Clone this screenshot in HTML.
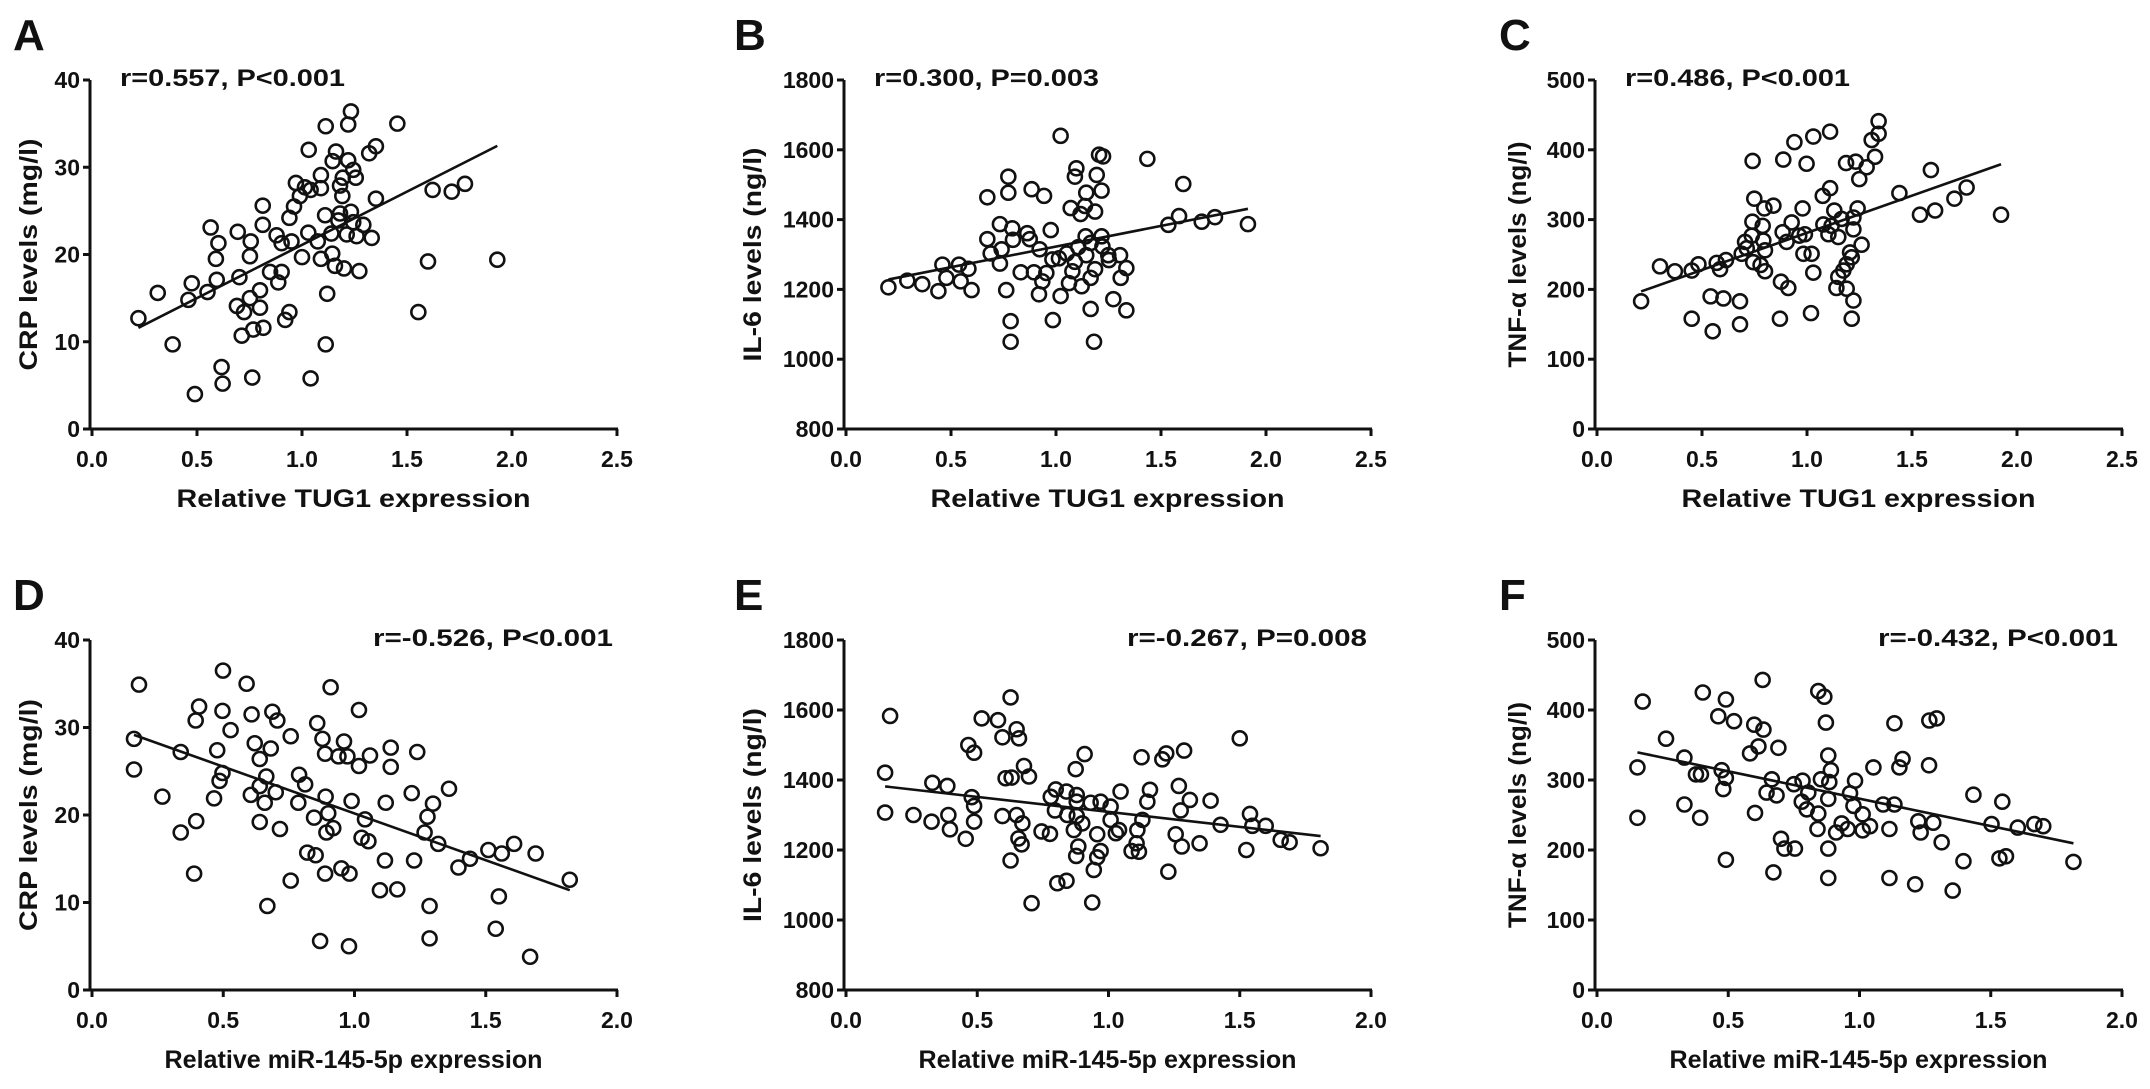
<!DOCTYPE html>
<html><head><meta charset="utf-8"><style>
html,body{margin:0;padding:0;background:#fff}
svg{display:block}
text{font-family:"Liberation Sans",Arial,sans-serif;font-weight:bold;fill:#111}
</style></head><body>
<svg id="fig" width="2150" height="1089" viewBox="0 0 2150 1089" xmlns="http://www.w3.org/2000/svg"></svg>
<script>
const aX=[1.233,1.113,1.22,1.454,1.032,1.162,1.32,1.352,1.146,1.22,1.244,1.09,1.194,1.256,0.971,1.014,1.041,1.09,1.181,1.622,1.713,1.776,1.192,1.352,0.99,0.962,0.813,0.94,1.11,1.181,1.233,1.173,1.244,0.813,0.565,0.694,1.292,1.03,1.14,1.213,1.26,1.332,0.879,0.903,0.95,1.075,0.602,0.756,0.59,0.752,1.0,1.09,1.144,1.157,1.2,1.273,1.6,1.93,0.848,0.903,0.887,0.702,0.594,0.475,0.55,0.459,0.313,0.221,0.8,0.752,0.69,0.724,0.8,0.94,0.92,1.12,1.554,0.713,0.768,0.816,0.384,1.113,0.617,0.622,0.763,1.041,0.49];
const aY=[36.4,34.7,34.9,35.0,32.0,31.8,31.6,32.4,30.7,30.8,29.7,29.1,28.8,28.8,28.2,27.7,27.4,27.6,27.9,27.4,27.2,28.1,26.7,26.4,26.7,25.5,25.6,24.2,24.5,24.7,24.9,23.9,23.7,23.4,23.1,22.6,23.4,22.5,22.4,22.3,22.1,21.9,22.2,21.3,21.5,21.5,21.3,21.5,19.5,19.8,19.7,19.5,20.1,18.7,18.4,18.1,19.2,19.4,18.0,18.0,16.8,17.4,17.1,16.7,15.7,14.8,15.6,12.7,15.9,15.0,14.1,13.4,13.9,13.4,12.5,15.5,13.4,10.7,11.4,11.6,9.7,9.7,7.1,5.2,5.9,5.8,4.0];
const bX=[1.022,1.205,1.224,1.435,1.097,1.09,1.194,0.773,0.773,0.884,0.943,0.673,1.606,1.144,1.217,1.07,1.117,1.186,1.138,1.586,1.535,1.694,1.757,1.914,0.733,0.792,0.975,0.673,0.863,0.875,0.795,0.741,0.689,0.922,1.141,1.217,1.165,1.221,1.106,1.051,1.144,1.249,1.305,0.983,1.014,1.252,1.09,0.733,0.459,0.538,0.583,1.335,1.186,1.078,0.832,0.895,0.954,1.308,1.165,0.478,0.546,0.935,1.062,1.122,0.202,0.292,0.363,0.44,0.598,0.763,0.919,1.022,1.273,1.335,1.165,0.985,0.784,0.784,1.181];
const bY=[1640,1586,1581,1574,1547,1523,1528,1523,1477,1487,1468,1464,1502,1477,1483,1433,1416,1423,1439,1410,1385,1394,1407,1387,1387,1375,1370,1344,1361,1344,1342,1315,1303,1315,1352,1352,1333,1323,1321,1303,1298,1298,1298,1286,1289,1284,1279,1274,1271,1271,1259,1261,1258,1252,1249,1249,1247,1233,1233,1233,1223,1223,1218,1209,1206,1225,1215,1195,1198,1198,1186,1181,1172,1140,1144,1112,1109,1050,1050];
const cX=[1.341,1.341,1.308,1.11,1.03,0.94,0.741,0.887,0.998,1.186,1.232,1.324,1.284,1.249,1.59,1.11,1.075,1.44,1.76,1.702,1.538,1.61,1.924,0.749,0.797,0.84,0.979,1.13,1.241,1.221,1.165,0.74,0.789,0.927,1.078,1.117,1.221,0.884,0.963,0.99,1.102,1.149,0.737,0.792,0.705,0.903,1.26,0.713,0.8,0.689,0.983,1.022,1.205,1.213,0.744,0.779,1.189,0.8,1.173,1.03,1.149,0.614,0.57,0.586,0.483,0.451,0.3,0.371,0.876,0.911,1.14,1.189,1.221,0.21,0.541,0.602,0.681,0.451,0.551,0.681,0.871,1.019,1.213];
const cY=[441,423,414,426,419,411,384,386,380,381,383,390,375,358,371,345,334,338,346,330,307,313,307,330,316,320,316,313,316,303,301,297,291,296,293,291,286,282,277,279,279,275,277,270,268,268,264,259,256,251,251,251,253,246,239,235,236,226,227,224,218,242,238,229,236,227,233,226,211,202,202,201,184,183,190,187,183,158,140,150,158,166,158];
const dX=[0.179,0.499,0.589,0.909,0.408,0.395,0.497,0.608,0.687,0.706,0.528,0.757,0.858,1.017,0.16,0.338,0.477,0.62,0.681,0.639,0.878,0.96,0.888,0.939,0.973,1.059,1.017,1.138,1.138,1.239,0.16,0.497,0.486,0.664,0.639,0.789,0.812,0.268,0.465,0.605,0.658,0.7,0.786,0.89,0.989,1.119,1.218,1.36,1.299,0.846,0.9,0.919,0.893,1.04,1.278,1.267,1.319,0.397,0.338,0.639,0.716,1.027,1.053,0.82,0.852,1.116,1.227,1.396,1.44,1.51,1.561,1.608,1.69,0.888,0.95,0.981,0.389,0.757,1.097,1.163,1.55,1.286,0.668,1.538,0.869,0.979,1.286,1.669,1.82];
const dY=[34.9,36.5,35.0,34.6,32.4,30.8,31.9,31.5,31.8,30.8,29.7,29.0,30.5,32.0,28.7,27.2,27.4,28.2,27.6,26.4,28.7,28.4,27.0,26.7,26.7,26.8,25.6,27.7,25.5,27.2,25.2,24.8,23.9,24.4,23.3,24.6,23.5,22.1,21.9,22.3,21.4,22.6,21.4,22.1,21.6,21.4,22.5,23.0,21.3,19.7,20.2,18.5,18.0,19.5,19.8,18.0,16.7,19.3,18.0,19.2,18.4,17.4,17.0,15.7,15.4,14.8,14.8,14.0,15.0,16.0,15.6,16.7,15.6,13.3,13.9,13.3,13.3,12.5,11.4,11.5,10.7,9.6,9.6,7.0,5.6,5.0,5.9,3.8,12.6];
const eX=[0.168,0.627,0.517,0.579,0.65,0.659,0.596,0.466,0.488,1.5,0.909,0.875,1.126,1.205,1.22,1.288,0.149,0.678,0.697,0.608,0.631,0.329,0.386,0.479,0.488,0.799,0.78,0.84,0.879,0.879,0.932,0.97,1.008,1.046,1.158,1.148,1.268,1.31,1.389,1.275,0.796,0.843,0.879,0.9,0.149,0.257,0.326,0.39,0.396,0.456,0.488,0.596,0.65,0.672,0.657,0.669,0.745,0.777,0.868,0.957,1.008,1.04,1.028,1.11,1.129,1.107,1.088,1.116,0.885,0.877,0.97,0.957,0.944,1.256,1.279,1.347,1.427,1.539,1.548,1.599,1.656,1.69,1.525,1.808,0.627,0.805,0.84,0.707,0.938,1.228];
const eY=[1583,1636,1576,1571,1545,1519,1522,1500,1478,1519,1474,1431,1465,1459,1476,1484,1421,1440,1410,1405,1407,1392,1383,1351,1326,1373,1352,1367,1357,1338,1335,1338,1324,1367,1372,1338,1383,1343,1341,1313,1313,1300,1297,1276,1307,1300,1281,1300,1259,1232,1281,1297,1300,1276,1233,1216,1253,1246,1257,1245,1286,1257,1248,1257,1286,1219,1197,1195,1210,1183,1197,1179,1143,1245,1210,1219,1272,1303,1269,1269,1229,1222,1200,1205,1170,1105,1112,1048,1050,1138];
const fX=[0.174,0.631,0.403,0.491,0.843,0.866,0.462,0.522,0.599,0.634,0.872,1.133,1.266,1.294,0.263,0.615,0.583,0.691,0.881,0.333,0.154,0.377,0.396,0.475,0.491,0.481,0.891,1.053,1.152,1.164,1.265,0.666,0.646,0.684,0.75,0.783,0.805,0.853,0.885,0.881,0.983,0.964,0.78,0.799,0.843,0.84,0.977,1.012,1.04,0.932,0.911,0.955,1.012,1.09,1.133,1.114,1.224,1.281,1.233,1.313,1.434,1.544,1.503,1.603,1.666,1.7,1.815,1.533,1.558,1.396,0.154,0.333,0.393,0.602,0.701,0.714,0.754,0.881,0.491,0.672,0.881,1.114,1.212,1.355];
const fY=[412,443,425,415,427,419,391,384,379,372,382,381,385,388,359,348,338,346,335,332,318,308,308,314,303,287,314,318,318,330,321,301,282,278,294,299,282,301,297,273,299,281,269,258,252,230,263,251,234,238,225,230,228,265,265,230,241,239,225,211,279,269,237,232,237,234,183,188,191,184,246,265,246,253,216,202,202,202,186,168,160,160,151,142];
const topXTicks=["0.0","0.5","1.0","1.5","2.0","2.5"];
const botXTicks=["0.0","0.5","1.0","1.5","2.0"];
const crpTicks=["0","10","20","30","40"];
const il6Ticks=["800","1000","1200","1400","1600","1800"];
const tnfTicks=["0","100","200","300","400","500"];

const NS="http://www.w3.org/2000/svg";
const svg=document.getElementById('fig');
function mk(tag,attrs,parent){const e=document.createElementNS(NS,tag);for(const k in attrs)e.setAttribute(k,attrs[k]);(parent||svg).appendChild(e);return e;}

const panels=[
 {id:'a',L:'A',x0:92,ppu:210,xt:topXTicks,yb:429,yt:80,yt_:crpTicks,ymin:0,ymax:40,X:aX,Y:aY,yl:'CRP levels (mg/l)',xl:'Relative TUG1 expression',ann:'r=0.557, P<0.001',annRight:false,xlLen:354,lOff:77,tOff:62,tLen:232},
 {id:'b',L:'B',x0:846,ppu:210,xt:topXTicks,yb:429,yt:80,yt_:il6Ticks,ymin:800,ymax:1800,X:bX,Y:bY,yl:'IL-6 levels (ng/l)',xl:'Relative TUG1 expression',ann:'r=0.300, P=0.003',annRight:false,xlLen:354,lOff:110,tOff:92,tLen:214},
 {id:'c',L:'C',x0:1597,ppu:210,xt:topXTicks,yb:429,yt:80,yt_:tnfTicks,ymin:0,ymax:500,X:cX,Y:cY,yl:'TNF-α levels (ng/l)',xl:'Relative TUG1 expression',ann:'r=0.486, P<0.001',annRight:false,xlLen:354,lOff:96,tOff:78,tLen:226},
 {id:'d',L:'D',x0:92,ppu:262.5,xt:botXTicks,yb:990,yt:640,yt_:crpTicks,ymin:0,ymax:40,X:dX,Y:dY,yl:'CRP levels (mg/l)',xl:'Relative miR-145-5p expression',ann:'r=-0.526, P<0.001',annRight:true,xlLen:378,lOff:77,tOff:62,tLen:232},
 {id:'e',L:'E',x0:846,ppu:262.5,xt:botXTicks,yb:990,yt:640,yt_:il6Ticks,ymin:800,ymax:1800,X:eX,Y:eY,yl:'IL-6 levels (ng/l)',xl:'Relative miR-145-5p expression',ann:'r=-0.267, P=0.008',annRight:true,xlLen:378,lOff:110,tOff:92,tLen:214},
 {id:'f',L:'F',x0:1597,ppu:262.5,xt:botXTicks,yb:990,yt:640,yt_:tnfTicks,ymin:0,ymax:500,X:fX,Y:fY,yl:'TNF-α levels (ng/l)',xl:'Relative miR-145-5p expression',ann:'r=-0.432, P<0.001',annRight:true,xlLen:378,lOff:96,tOff:78,tLen:226}
];

panels.forEach(p=>{
  const g=mk('g',{});
  
  
  const sx=v=>p.x0+v*p.ppu;
  const sy=v=>p.yb-(v-p.ymin)/(p.ymax-p.ymin)*(p.yb-p.yt);
  const ax=p.x0-2;
  const xEnd=sx(parseFloat(p.xt[p.xt.length-1]));
  const letter=mk('text',{x:ax-p.lOff,y:p.yt-30,'font-size':44},g);letter.textContent=p.L;
  
  
  const yAxis=mk('line',{x1:ax,y1:p.yt,x2:ax,y2:p.yb+1.5,stroke:'#111','stroke-width':3},g);
  
  
  const xAxis=mk('line',{x1:ax-5,y1:p.yb,x2:xEnd+1,y2:p.yb,stroke:'#111','stroke-width':3},g);
  
  
  p.yt_.forEach(t=>{
    const y=sy(parseFloat(t));
    mk('line',{x1:ax-7,y1:y,x2:ax,y2:y,stroke:'#111','stroke-width':3},g);
    const tx=mk('text',{x:ax-10,y:y+8,'font-size':23,'text-anchor':'end'},g);tx.textContent=t;
    
    
  });
  p.xt.forEach(t=>{
    const x=sx(parseFloat(t));
    mk('line',{x1:x,y1:p.yb,x2:x,y2:p.yb+7,stroke:'#111','stroke-width':3},g);
    const tx=mk('text',{x:x,y:p.yb+38,'font-size':23,'text-anchor':'middle'},g);tx.textContent=t;
    
    
  });
  const cx=(ax+xEnd)/2;
  const xl=mk('text',{x:cx,y:p.yb+78,'font-size':25,'text-anchor':'middle',textLength:p.xlLen,lengthAdjust:'spacingAndGlyphs'},g);xl.textContent=p.xl;
  
  
  const cy=(p.yt+p.yb)/2;
  const yl=mk('text',{x:0,y:0,'font-size':25,'text-anchor':'middle',transform:`translate(${ax-p.tOff+9},${cy}) rotate(-90)`,textLength:p.tLen,lengthAdjust:'spacingAndGlyphs'},g);yl.textContent=p.yl;
  
  
  const an=p.annRight?mk('text',{x:xEnd-4,y:p.yt+6,'font-size':24,'text-anchor':'end',textLength:p.ann.length>16?240:225,lengthAdjust:'spacingAndGlyphs'},g):mk('text',{x:ax+30,y:p.yt+6,'font-size':24,textLength:225,lengthAdjust:'spacingAndGlyphs'},g);
  an.textContent=p.ann;
  
  
  const n=p.X.length;let mx=0,my=0;for(let i=0;i<n;i++){mx+=p.X[i];my+=p.Y[i];}mx/=n;my/=n;
  let sxy=0,sxx=0;for(let i=0;i<n;i++){sxy+=(p.X[i]-mx)*(p.Y[i]-my);sxx+=(p.X[i]-mx)**2;}
  const b=sxy/sxx,a0=my-b*mx;const xmn=Math.min(...p.X),xmx=Math.max(...p.X);
  const ln=mk('line',{x1:sx(xmn),y1:sy(a0+b*xmn),x2:sx(xmx),y2:sy(a0+b*xmx),stroke:'#111','stroke-width':2.6},g);
  
  
  for(let i=0;i<n;i++){
    const c=mk('circle',{cx:sx(p.X[i]),cy:sy(p.Y[i]),r:7,fill:'none',stroke:'#111','stroke-width':2.6},g);
    
    
  }
});
</script>
</body></html>
